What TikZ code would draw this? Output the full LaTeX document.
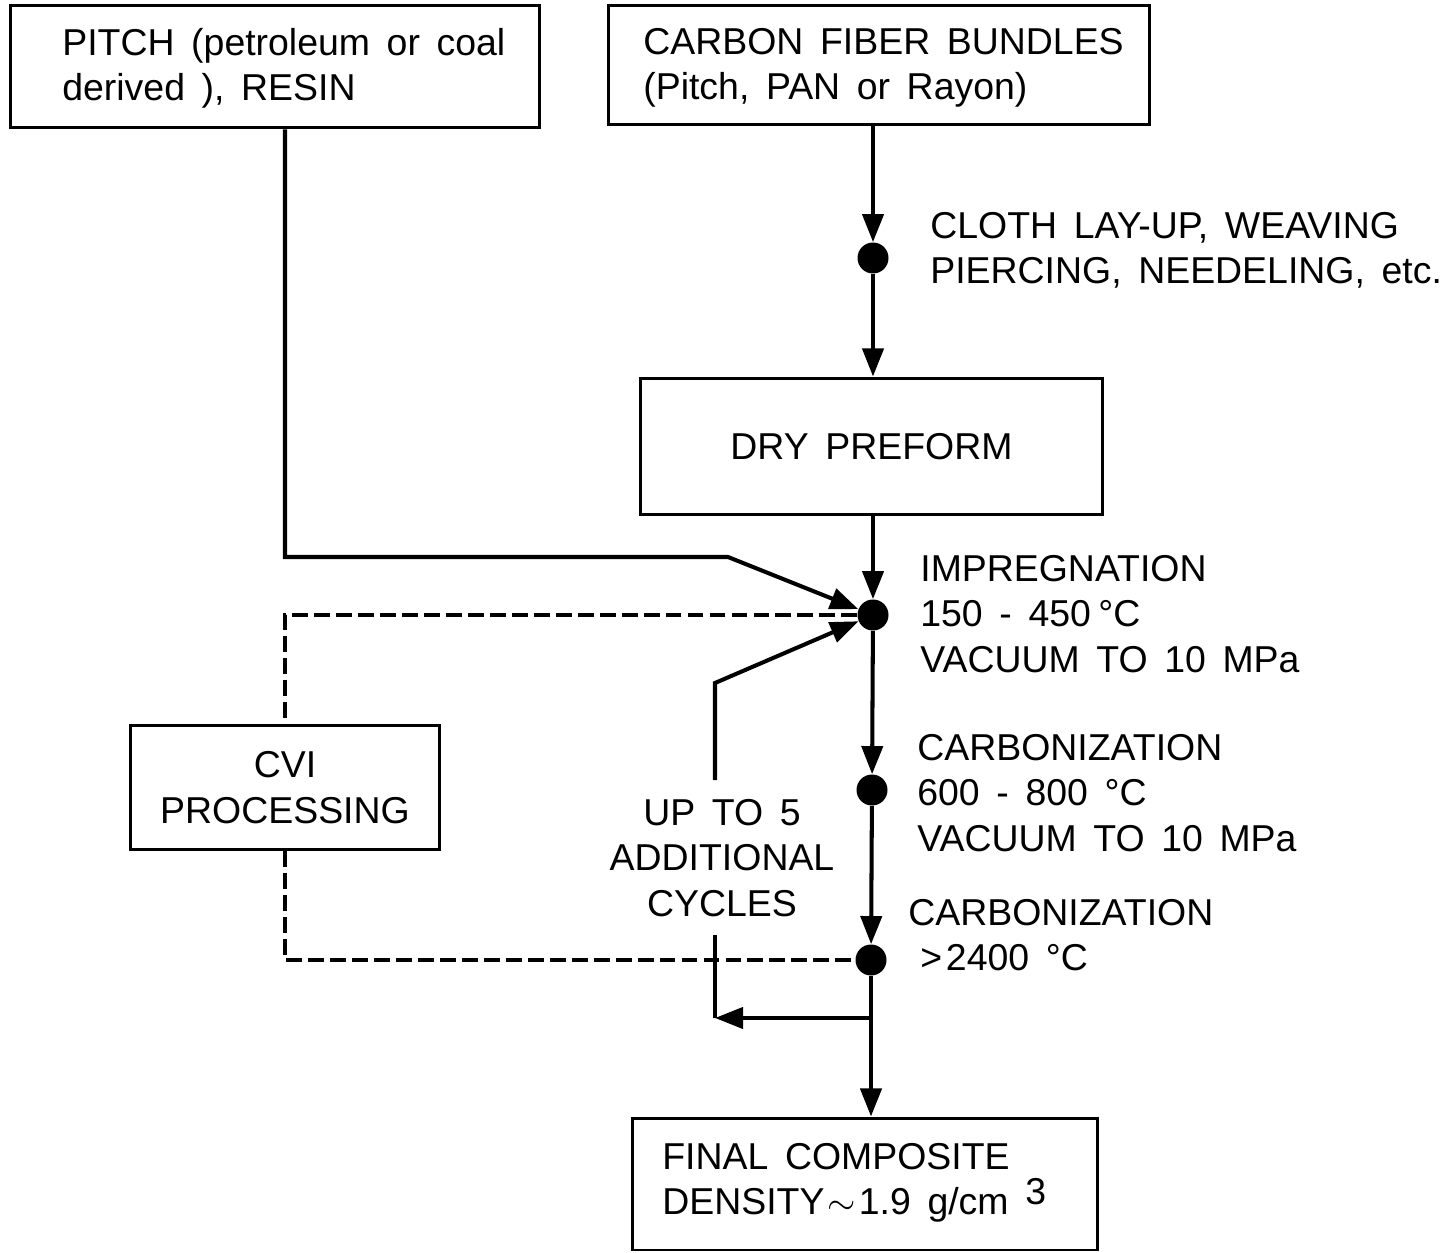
\documentclass[tikz,border=0pt]{standalone}
\usepackage{fontspec}
\setmainfont{Liberation Sans}[WordSpace=1.6]
\usetikzlibrary{arrows.meta}
\begin{document}
\begin{tikzpicture}[x=0.02cm,y=-0.02cm,
  font=\fontsize{21.3}{25.8}\selectfont,
  box/.style={draw, line width=1.7pt, inner sep=0pt},
  flow/.style={line width=2.3pt},
  arr/.style={flow, -{Triangle[length=16pt,width=12pt]}},
  dashline/.style={line width=2.3pt, dash pattern=on 9pt off 3.5pt},
  dot/.style={circle, fill, inner sep=0pt, minimum size=0.62cm},
  lbl/.style={align=left, anchor=west, inner sep=0pt}]
\useasboundingbox (0,0) rectangle (1454,1253);

% boxes
\node[box, minimum width=10.6cm, minimum height=2.46cm] (pitch) at (275,66.5) {};
\node[lbl] (pitcht) at (62,68) {PITCH (petroleum or coal\\derived ), RESIN};
\node[box, minimum width=10.84cm, minimum height=2.4cm] (carbon) at (879,65) {};
\node[lbl] (carbont) at (643,67.5) {CARBON FIBER BUNDLES\\(Pitch, PAN or Rayon)};
\node[box, minimum width=9.26cm, minimum height=2.74cm] (dry) at (871.5,446.5)
  {DRY PREFORM};
\node[box, minimum width=6.2cm, minimum height=2.5cm, align=center] (cvi) at (285,787.5)
  {CVI\\PROCESSING};
\node[box, minimum width=9.32cm, minimum height=2.64cm] (final) at (865,1184) {};
\node[lbl] (finalt) at (662,1183)
  {FINAL COMPOSITE\\DENSITY\hspace{0.08em}$\sim$\hspace{0.08em}1.9 g/cm \raisebox{0.5ex}{3}};

% dots
\node[dot] (d0) at (873,258) {};
\node[dot] (d1) at (873,615) {};
\node[dot] (d2) at (872,790) {};
\node[dot] (d3) at (871,960) {};

% labels
\node[lbl] (l0) at (930,250) {CLOTH LAY-UP, WEAVING\\PIERCING, NEEDELING, etc.};
\node[lbl] (l1) at (920,614) {IMPREGNATION\\150 - 450\hspace{0.2em}°C\\VACUUM TO 10 MPa};
\node[lbl] (l2) at (917,793) {CARBONIZATION\\600 - 800 °C\\VACUUM TO 10 MPa};
\node[lbl] (l3) at (908,935) {CARBONIZATION\\\hspace*{0.24cm}>\hspace{0.1em}2400 °C};
\node[align=center, inner sep=0pt] (cyc) at (722,858) {UP TO 5\\ADDITIONAL\\CYCLES};

% main flow
\draw[arr] (d0 |- carbon.south) -- (d0);
\draw[arr] (d0) -- (d0 |- dry.north);
\draw[arr] (d1 |- dry.south) -- (d1);
\draw[arr] (d1) -- (d2);
\draw[arr] (d2) -- (d3);
\draw[arr] (d3) -- (d3 |- final.north);

% pitch feed
\coordinate (p1) at (285,557);
\coordinate (p2) at (728,557);
\draw[arr] (p1 |- pitch.south) -- (p1) -- (p2) -- (d1);

% recycle loop
\coordinate (j) at (871,1018);
\coordinate (lc) at (715,1018);
\coordinate (lt) at (715,935);
\coordinate (ub) at (715,780);
\coordinate (ut) at (715,683);
\draw[arr] (j) -- (lc);
\draw[flow] (lc) -- (lt);
\draw[arr] (ub) -- (ut) -- (d1);

% CVI dashed path
\draw[dashline] (d1.west) -- (d1.west -| cvi.north) -- (cvi.north);
\draw[dashline] (cvi.south) -- (cvi.south |- d3) -- (d3.west);
\end{tikzpicture}
\end{document}
